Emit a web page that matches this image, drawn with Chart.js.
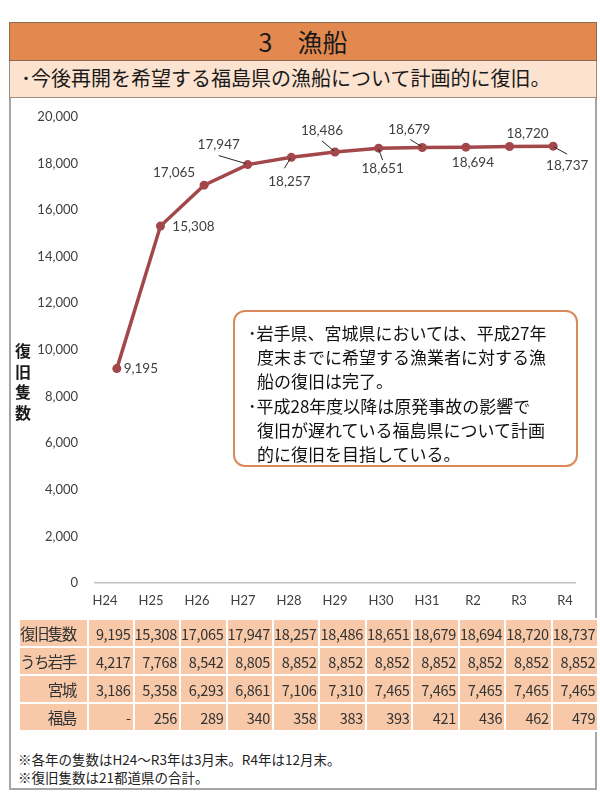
<!DOCTYPE html>
<html lang="ja">
<head>
<meta charset="utf-8">
<script src="https://cdn.jsdelivr.net/npm/chart.js@4.4.1/dist/chart.umd.min.js"></script>
<style>
  body { margin: 0; width: 600px; height: 807px; background: #fff; position: relative; overflow: hidden;
         font-family: "Noto Sans CJK JP", sans-serif; color: #1a1a1a; }
  .abs { position: absolute; box-sizing: border-box; }
  #frame { left: 9px; top: 22px; width: 588px; height: 768px; border: 2px solid #a5a5a5; }
  #title { left: 9px; top: 22px; width: 588px; height: 39px; background: #e3894f; border: 1px solid #8a6a55;
           font-size: 25px; line-height: 37px; text-align: center; }
  #sub { left: 9px; top: 61px; width: 588px; height: 37px; background: #fce3d0; border: 1px solid #a08a7a; border-top: none;
         font-size: 20px; line-height: 34px; padding-left: 11px; white-space: nowrap; }
  #chartWrap { left: 0; top: 100px; width: 600px; height: 520px; }
  #chartWrap canvas { display: block; }
  #ytitle { left: 14px; top: 340px; width: 18px; font-size: 16px; font-weight: bold; line-height: 20.5px; text-align: center; }
  #note { left: 233px; top: 310px; width: 345px; height: 157px; border: 2px solid #d9895a; border-radius: 12px;
          background: #fff; padding: 9px 0 0 13px; font-size: 17px; line-height: 24.2px; white-space: nowrap; color: #111; }
  #note p { margin: 0; padding-left: 9px; text-indent: -9px; }
  #tbl { left: 18px; top: 618px; border-collapse: collapse; table-layout: fixed; font-size: 14.5px; color: #333; }
  #tbl td { background: #f7c9a9; border: 2px solid #fff; height: 26px; padding: 0 2px 0 0; text-align: right; white-space: nowrap; letter-spacing: -0.3px; }
  #tbl td.lab { font-size: 15.5px; letter-spacing: -1.6px; padding-right: 11px; }
  #foot { left: 18px; top: 750px; font-size: 13.5px; line-height: 18px; color: #222; white-space: nowrap; }
</style>
</head>
<body>
<div id="frame" class="abs"></div>
<div id="title" class="abs">3　漁船</div>
<div id="sub" class="abs">･今後再開を希望する福島県の漁船について計画的に復旧。</div>
<div id="chartWrap" class="abs"><canvas id="chart" width="600" height="520"></canvas></div>
<div id="ytitle" class="abs">復<br>旧<br>隻<br>数</div>
<div id="note" class="abs">
  <p>･岩手県、宮城県においては、平成27年<br>度末までに希望する漁業者に対する漁<br>船の復旧は完了。</p>
  <p>･平成28年度以降は原発事故の影響で<br>復旧が遅れている福島県について計画<br>的に復旧を目指している。</p>
</div>
<table id="tbl" class="abs"><colgroup id="cols"></colgroup><tbody id="tbody"></tbody></table>
<div id="foot" class="abs">※各年の隻数はH24～R3年は3月末。R4年は12月末。<br>※復旧隻数は21都道県の合計。</div>

<script>
// Data
const YEARS = ['H24', 'H25', 'H26', 'H27', 'H28', 'H29', 'H30', 'H31', 'R2', 'R3', 'R4'];
const RESTORED = [9195, 15308, 17065, 17947, 18257, 18486, 18651, 18679, 18694, 18720, 18737];
const IWATE = [4217, 7768, 8542, 8805, 8852, 8852, 8852, 8852, 8852, 8852, 8852];
const MIYAGI = [3186, 5358, 6293, 6861, 7106, 7310, 7465, 7465, 7465, 7465, 7465];
const FUKUSHIMA = [null, 256, 289, 340, 358, 383, 393, 421, 436, 462, 479];
const ROW_LABELS = ['復旧隻数', 'うち岩手', '宮城', '福島'];
const Y_MAX = 20000;
const Y_STEP = 2000;

// label placement relative to each point [dx, dy], and optional leader line [x1, y1, x2, y2]
const labelOffsets = [[24, 0], [33, 1], [-30, -12], [-29, -20], [-2, 24], [-13, -21],
                      [4, 20], [-13, -18], [7, 15], [18, -13], [14, 19]];
const leaders = [null, null, null, [-29, -9, -2, -1], [-7, 11, -1, 1], [-13, -11, -1, -1],
                 [0, 1, 4, 12], [-12, -8, -1, -1], null, null, [1, 1, 14, 8]];

const fmt = v => v.toLocaleString('en-US');

// table
const cols = document.getElementById('cols');
cols.innerHTML = '<col style="width:67px">' + YEARS.map(() => '<col style="width:46px">').join('');
const tbody = document.getElementById('tbody');
[RESTORED, IWATE, MIYAGI, FUKUSHIMA].forEach((row, r) => {
    const tr = document.createElement('tr');
    tr.innerHTML = '<td class="lab">' + ROW_LABELS[r] + '</td>' +
        row.map(v => '<td>' + (v === null ? '-' : fmt(v)) + '</td>').join('');
    tbody.appendChild(tr);
});

const pointLabels = {
    id: 'pointLabels',
    afterDatasetsDraw(chart) {
        const ctx = chart.ctx;
        const pts = chart.getDatasetMeta(0).data;
        ctx.save();
        ctx.font = '13.5px Lato';
        ctx.fillStyle = '#404040';
        ctx.textAlign = 'center';
        ctx.textBaseline = 'middle';
        pts.forEach((p, i) => {
            const [dx, dy] = labelOffsets[i];
            ctx.fillText(fmt(RESTORED[i]), p.x + dx, p.y + dy);
            const l = leaders[i];
            if (l) {
                ctx.beginPath();
                ctx.moveTo(p.x + l[0], p.y + l[1]);
                ctx.lineTo(p.x + l[2], p.y + l[3]);
                ctx.strokeStyle = '#262626';
                ctx.lineWidth = 1;
                ctx.stroke();
            }
        });
        ctx.restore();
    }
};

new Chart(document.getElementById('chart'), {
    type: 'line',
    data: {
        labels: YEARS,
        datasets: [{
            data: RESTORED,
            borderColor: '#a3474b',
            backgroundColor: '#a3474b',
            borderWidth: 3.5,
            pointRadius: 4.5,
            pointBackgroundColor: '#a3474b',
            pointBorderWidth: 0,
            tension: 0
        }]
    },
    options: {
        responsive: false,
        animation: false,
        layout: { padding: { left: 0, right: 25, top: 16.7, bottom: 0 } },
        plugins: { legend: { display: false }, tooltip: { enabled: false } },
        scales: {
            x: { type: 'category', offset: true, display: false },
            xl: {
                type: 'linear',
                position: 'bottom',
                min: -10 / 46,
                max: 10 + 10 / 46,
                afterBuildTicks: s => { s.ticks = YEARS.map((_, i) => ({ value: i })); },
                afterFit: s => { s.height = 37; },
                ticks: {
                    callback: v => YEARS[v],
                    color: '#404040',
                    font: { family: 'Lato', size: 13 },
                    padding: 10,
                    autoSkip: false,
                    maxRotation: 0
                },
                grid: { display: false, drawTicks: false },
                border: { display: true, color: '#bfbfbf', width: 1.5 }
            },
            y: {
                min: 0,
                max: Y_MAX,
                afterFit: s => { s.width = 95; s.paddingTop = 0; s.paddingBottom = 0; },
                ticks: {
                    stepSize: Y_STEP,
                    callback: v => fmt(v),
                    color: '#404040',
                    font: { family: 'Lato', size: 13 },
                    padding: 17
                },
                grid: { display: false, drawTicks: false },
                border: { display: false }
            }
        }
    },
    plugins: [pointLabels]
});
</script>
</body>
</html>
